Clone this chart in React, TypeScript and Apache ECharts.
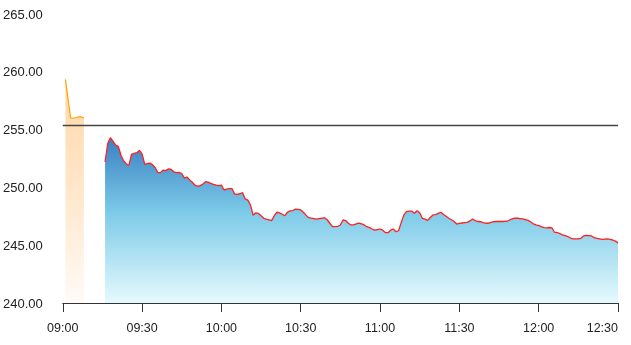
import React, { useEffect, useRef } from "react";
import * as echarts from "echarts";

// Pre-open session (orange)
const preTimes = ["09:01", "09:03", "09:04", "09:05", "09:06", "09:07", "09:08"];
const preValues = [259.35, 255.98, 255.98, 256.05, 256.1, 256.1, 256.0];

// Continuous session (blue area, red line): one value per minute from 09:16
const mainStart = "09:16";
const mainValues = [
  252.2, 253.8, 254.3, 254.0, 253.65, 253.55, 252.8, 252.3, 252.05, 251.9,
  252.85, 252.95, 253.0, 253.2, 252.9, 252.0, 252.05, 252.1, 251.95, 251.7,
  251.27, 251.3, 251.5, 251.45, 251.6, 251.55, 251.35, 251.27, 251.3, 251.2,
  250.8, 250.9, 250.65, 250.45, 250.2, 250.1, 250.15, 250.3, 250.5, 250.45,
  250.35, 250.27, 250.2, 250.15, 250.2, 249.77, 249.85, 249.9, 249.9, 249.43,
  249.4, 249.45, 249.54, 249.0, 248.9, 248.48, 247.6, 247.8, 247.75, 247.55,
  247.33, 247.25, 247.2, 247.13, 247.55, 247.85, 247.8, 247.68, 247.55, 247.85,
  247.97, 248.0, 248.12, 248.1, 248.05, 247.85, 247.6, 247.38, 247.35, 247.3,
  247.25, 247.3, 247.33, 247.38, 247.2, 246.9, 246.6, 246.6, 246.62, 246.75,
  247.18, 247.13, 246.9, 246.75, 246.75, 246.85, 246.9, 246.85, 246.75, 246.6,
  246.52, 246.4, 246.3, 246.35, 246.4, 246.3, 246.1, 246.08, 246.3, 246.4,
  246.17, 246.25, 246.95, 247.6, 247.9, 247.95, 247.95, 247.76, 247.98, 247.8,
  247.33, 247.25, 247.15, 247.4, 247.62, 247.65, 247.75, 247.85, 247.65, 247.5,
  247.33, 247.2, 247.05, 246.83, 246.88, 246.92, 246.95, 246.98, 247.1, 247.27,
  247.12, 247.05, 247.03, 246.95, 246.9, 246.9, 246.98, 247.03, 247.06, 247.05,
  247.05, 247.06, 247.07, 247.18, 247.28, 247.35, 247.33, 247.3, 247.27, 247.22,
  247.15, 247.0, 246.85, 246.75, 246.7, 246.6, 246.52, 246.5, 246.53, 246.5,
  246.12, 246.1, 246.0, 245.9, 245.83, 245.75, 245.62, 245.55, 245.55, 245.55,
  245.6, 245.8, 245.85, 245.83, 245.8, 245.65, 245.6, 245.55, 245.5, 245.53,
  245.55, 245.5, 245.45, 245.35, 245.2,
];

const prevClose = 255.4;
const axisStart = "09:00";
const axisEnd = "12:30";
const yMin = 240;
const yMax = 265;

const toMin = (t: string) => {
  const [h, m] = t.split(":").map(Number);
  return h * 60 + m;
};
const base = toMin(axisStart);
const fmt = (v: number) => {
  const t = base + v;
  const h = Math.floor(t / 60);
  const m = t % 60;
  return `${String(h).padStart(2, "0")}:${String(m).padStart(2, "0")}`;
};

export default function App() {
  const ref = useRef<HTMLDivElement>(null);
  useEffect(() => {
    if (!ref.current) return;
    const chart = echarts.init(ref.current, undefined, { renderer: "svg" });
    const font = "Liberation Sans, Arial, Helvetica, sans-serif";
    const preData = preTimes.map((t, i) => [toMin(t) - base, preValues[i]]);
    const s0 = toMin(mainStart) - base;
    const mainData = mainValues.map((v, i) => [s0 + i, v]);
    chart.setOption({
      animation: false,
      grid: { left: 62, right: 13, top: 14, bottom: 42, containLabel: false },
      xAxis: {
        type: "value",
        min: 0,
        max: toMin(axisEnd) - base,
        interval: 30,
        axisLine: { lineStyle: { color: "#333", width: 1 } },
        axisTick: { show: true, length: 9, lineStyle: { color: "#333" } },
        splitLine: { show: false },
        axisLabel: {
          color: "#222",
          fontSize: 12.5,
          fontFamily: font,
          margin: 18,
          formatter: (v: number) => fmt(v),
          alignMaxLabel: "right",
        },
      },
      yAxis: {
        type: "value",
        min: yMin,
        max: yMax,
        interval: 5,
        axisLine: { show: false },
        axisTick: { show: false },
        splitLine: { show: false },
        axisLabel: {
          color: "#222",
          fontSize: 13,
          fontFamily: font,
          margin: 20,
          formatter: (v: number) => v.toFixed(2),
        },
      },
      series: [
        {
          type: "line",
          data: preData,
          symbol: "none",
          lineStyle: { color: "#ffa500", width: 1.2 },
          areaStyle: {
            origin: "start",
            opacity: 1,
            color: new echarts.graphic.LinearGradient(0, 0, 0, 1, [
              { offset: 0, color: "#ffd8a6" },
              { offset: 0.55, color: "#ffe9cf" },
              { offset: 1, color: "#fffbf7" },
            ]),
          },
        },
        {
          type: "line",
          data: mainData,
          symbol: "none",
          lineStyle: { color: "#ff2020", width: 1.3 },
          areaStyle: {
            origin: "start",
            opacity: 1,
            color: new echarts.graphic.LinearGradient(0, 0, 0, 1, [
              { offset: 0, color: "#3a80c2" },
              { offset: 0.45, color: "#7ccae8" },
              { offset: 1, color: "#e6fafe" },
            ]),
          },
          markLine: {
            silent: true,
            symbol: "none",
            label: { show: false },
            lineStyle: { color: "#444", width: 1.4, type: "solid" },
            data: [{ yAxis: prevClose }],
          },
        },
      ],
    });
    return () => chart.dispose();
  }, []);
  return (
    <div
      ref={ref}
      style={{ position: "fixed", left: 0, top: 0, width: 631, height: 345 }}
    />
  );
}
